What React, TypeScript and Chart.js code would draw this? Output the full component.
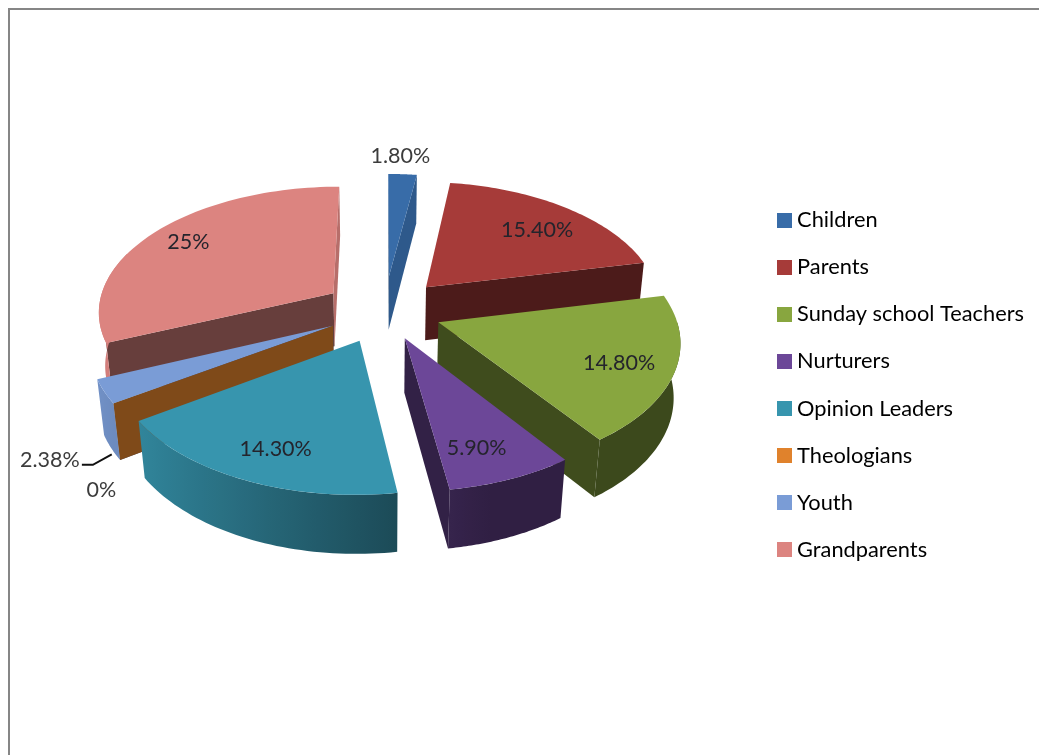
import React, { useEffect, useRef } from "react";
import { Chart, PieController, ArcElement, Legend } from "chart.js";

const categories = [
  "Children",
  "Parents",
  "Sunday school Teachers",
  "Nurturers",
  "Opinion Leaders",
  "Theologians",
  "Youth",
  "Grandparents",
];
const shares = [1.8, 15.4, 14.8, 5.9, 14.3, 0, 2.38, 25];
const shareLabels = ["1.80%", "15.40%", "14.80%", "5.90%", "14.30%", "0%", "2.38%", "25%"];
const sliceColors = ["#386ca8", "#a63b39", "#88a63f", "#6c4798", "#3795ae", "#e0822c", "#7a9cd6", "#dc8480"];
const explode = [72, 68, 62, 58, 64, 62, 62, 67];
const paintOrder = [0, 7, 1, 2, 6, 5, 3, 4];
const labelRadius = [1.2, 0.737, 0.78, 0.786, 0.79, 1.345, 1.36, 0.81];
const labelTurn = [-1.1, 2.7, 2.1, 2.8, -1.5, -20, -13.6, 0];

// Camera used for the tilted 3D pie
const TILT = (32 * Math.PI) / 180;
const CAM_DIST = 1630;
const FOCAL = 1509;
const THICKNESS = 70;
const PIE_LIFT = 74;
const LEADER_SLICE = 6;

function shade(hex: string, f: number) {
  const n = parseInt(hex.slice(1), 16);
  const c = [(n >> 16) & 255, (n >> 8) & 255, n & 255].map((v) => Math.round(v * f));
  return `rgb(${c[0]},${c[1]},${c[2]})`;
}

const rimShade = (theta: number) =>
  Math.min(0.98, Math.max(0.44, 0.56 - 0.4 * Math.sin(theta)));

class Pie3DController extends PieController {
  static id = "pie3d";

  draw() {
    const chart: any = this.chart;
    const ctx = chart.ctx;
    const arcs: any[] = this.getMeta().data as any[];
    const cx = arcs[0].x;
    const cy = arcs[0].y - PIE_LIFT;
    const R = arcs[0].outerRadius;

    const project = (X: number, Z: number, Y = 0) => {
      const zc = CAM_DIST + Z * Math.cos(TILT) - Y * Math.sin(TILT);
      const yc = Y * Math.cos(TILT) + Z * Math.sin(TILT);
      return { x: cx + (FOCAL * X) / zc, y: cy - (FOCAL * yc) / zc };
    };

    const geometry = arcs.map((arc, i) => {
      const a = arc.startAngle + Math.PI / 2;
      const b = arc.endAngle + Math.PI / 2;
      // An empty slice is pushed out along its neighbour so their walls stay joined
      const ref = b - a < 1e-6 ? arcs[(i + 1) % arcs.length] : arc;
      const mid = (ref.startAngle + ref.endAngle) / 2 + Math.PI / 2;
      const e = arc.options.offset;
      return { a, b, mid, ax: e * Math.sin(mid), az: e * Math.cos(mid) };
    });

    const polygon = (pts: { x: number; y: number }[], fill: any) => {
      ctx.beginPath();
      pts.forEach((p, k) => (k ? ctx.lineTo(p.x, p.y) : ctx.moveTo(p.x, p.y)));
      ctx.closePath();
      ctx.fillStyle = fill;
      ctx.fill();
    };

    const wall = (g: any, theta: number, nx: number, nz: number, color: string) => {
      const rx = g.ax + R * Math.sin(theta);
      const rz = g.az + R * Math.cos(theta);
      const camX = -g.ax;
      const camZ = -CAM_DIST * Math.cos(TILT) - g.az;
      if (camX * nx + camZ * nz <= 0) return;
      const f = 0.46 + 0.6 * Math.max(0, nx - 0.38);
      polygon(
        [
          project(g.ax, g.az),
          project(rx, rz),
          project(rx, rz, -THICKNESS),
          project(g.ax, g.az, -THICKNESS),
        ],
        shade(color, f)
      );
    };

    ctx.save();
    paintOrder.forEach((i) => {
      const g = geometry[i];
      const color = arcs[i].options.backgroundColor;
      wall(g, g.a, -Math.cos(g.a), Math.sin(g.a), color);
      wall(g, g.b, Math.cos(g.b), -Math.sin(g.b), color);

      // Outer rim, only the part that faces the camera
      const from = Math.max(g.a, Math.PI / 2);
      const to = Math.min(g.b, (3 * Math.PI) / 2 + 0.35);
      if (to > from) {
        const top: any[] = [];
        const low: any[] = [];
        const steps = 48;
        for (let s = 0; s <= steps; s++) {
          const t = from + ((to - from) * s) / steps;
          const X = g.ax + R * Math.sin(t);
          const Z = g.az + R * Math.cos(t);
          top.push(project(X, Z));
          low.push(project(X, Z, -THICKNESS));
        }
        const xs = top.map((p) => p.x);
        const x0 = Math.min(...xs);
        const x1 = Math.max(...xs);
        const grad = ctx.createLinearGradient(x0, 0, x1, 0);
        for (let s = 0; s <= steps; s += 4) {
          const t = from + ((to - from) * s) / steps;
          grad.addColorStop(
            Math.min(1, Math.max(0, (top[s].x - x0) / (x1 - x0))),
            shade(color, rimShade(t))
          );
        }
        polygon(top.concat(low.reverse()), grad);
      }

      // Top face
      if (g.b > g.a) {
        const pts = [project(g.ax, g.az)];
        const steps = 64;
        for (let s = 0; s <= steps; s++) {
          const t = g.a + ((g.b - g.a) * s) / steps;
          pts.push(project(g.ax + R * Math.sin(t), g.az + R * Math.cos(t)));
        }
        polygon(pts, color);
      }
    });

    // Value labels, placed in the plane of the pie
    const lg = geometry[LEADER_SLICE];
    const leaderEnd = project(
      lg.ax + R * Math.sin(lg.mid),
      lg.az + R * Math.cos(lg.mid),
      -THICKNESS * 1.12
    );
    ctx.font = "21.5px Lato";
    ctx.textAlign = "center";
    ctx.textBaseline = "middle";
    geometry.forEach((g, i) => {
      const span = (g.a + g.b) / 2 + (labelTurn[i] * Math.PI) / 180;
      const r = labelRadius[i] * R;
      const p = project(g.ax + r * Math.sin(span), g.az + r * Math.cos(span));
      ctx.fillStyle = i === 0 || i === 5 || i === 6 ? "#3c3c3c" : "#24242c";
      ctx.fillText(shareLabels[i], p.x, p.y);
      if (i === LEADER_SLICE) {
        ctx.beginPath();
        ctx.moveTo(p.x + 32, p.y + 5);
        ctx.lineTo(p.x + 43, p.y + 5);
        ctx.lineTo(leaderEnd.x, leaderEnd.y);
        ctx.strokeStyle = "#111";
        ctx.lineWidth = 2;
        ctx.stroke();
      }
    });
    ctx.restore();
  }
}

Chart.register(Pie3DController, PieController, ArcElement, Legend);

function swatch(color: string) {
  const c = document.createElement("canvas");
  c.width = 15;
  c.height = 15;
  const g = c.getContext("2d")!;
  g.fillStyle = color;
  g.fillRect(0, 0, 15, 15);
  return c;
}

export default function App() {
  const ref = useRef<HTMLCanvasElement>(null);

  useEffect(() => {
    const chart = new Chart(ref.current!, {
      type: "pie3d" as any,
      data: {
        labels: categories,
        datasets: [
          {
            data: shares,
            backgroundColor: sliceColors,
            offset: explode,
            borderWidth: 0,
          } as any,
        ],
      },
      options: {
        responsive: false,
        animation: false,
        radius: 255,
        layout: { padding: { top: 15, left: 10, right: 5, bottom: 0 } },
        plugins: {
          tooltip: { enabled: false },
          legend: {
            display: true,
            position: "right",
            labels: {
              usePointStyle: true,
              pointStyleWidth: 2.5,
              padding: 25.3,
              color: "#3a3a3a",
              font: { family: "Lato", size: 21.8 },
              generateLabels: () =>
                categories.map((text, i) => ({
                  text,
                  index: i,
                  fillStyle: sliceColors[i],
                  strokeStyle: sliceColors[i],
                  lineWidth: 0,
                  hidden: false,
                  pointStyle: swatch(sliceColors[i]),
                })),
            },
          },
        },
      } as any,
    });
    return () => chart.destroy();
  }, []);

  return (
    <div
      style={{
        position: "fixed",
        left: 0,
        top: 0,
        width: 1039,
        height: 755,
        overflow: "hidden",
        background: "#fff",
      }}
    >
      <div
        style={{
          position: "absolute",
          left: 8,
          top: 8,
          width: 1100,
          height: 800,
          border: "2px solid #868686",
        }}
      />
      <canvas ref={ref} width={1039} height={755} style={{ position: "absolute", left: 0, top: 0 }} />
    </div>
  );
}
